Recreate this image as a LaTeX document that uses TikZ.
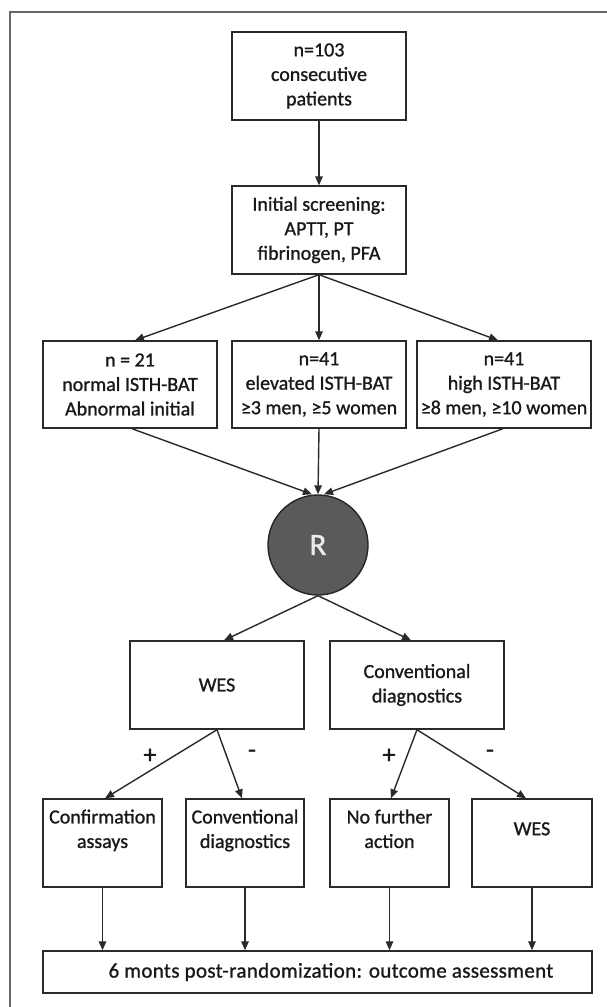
\documentclass[tikz,border=0pt]{standalone}
\usepackage{fontspec}
\setmainfont{Carlito}[FakeBold=1.1]
\usetikzlibrary{arrows.meta}
\definecolor{linec}{HTML}{2A2A2A}
\definecolor{framec}{HTML}{666666}
\definecolor{circfill}{HTML}{5A5A5A}
\begin{document}
\begin{tikzpicture}[x=1pt,y=-1pt,
  box/.style={draw=linec,line width=1.4pt,rectangle,align=center,inner sep=0pt,
    font=\fontsize{20}{24.5}\selectfont,text=black!90},
  arr/.style={draw=linec,line width=1.4pt,-{Triangle[length=9pt,width=7.5pt]}},
  sign/.style={font=\fontsize{26}{26}\selectfont,text=black!90}]
\useasboundingbox (0,0) rectangle (607,1007);
% outer frame
\draw[framec,line width=1.4pt] (10,1007) -- (10,12) -- (607,12);
% nodes
\node[box,minimum width=174pt,minimum height=88pt] (top) at (319,76) {n=103\\consecutive\\patients};
\node[box,minimum width=174pt,minimum height=88pt] (scr) at (319,230) {Initial screening:\\APTT, PT\\fibrinogen, PFA};
\node[box,minimum width=174pt,minimum height=87pt] (g1) at (130,384.5) {n = 21\\normal ISTH-BAT\\Abnormal initial};
\node[box,minimum width=174pt,minimum height=87pt] (g2) at (319,384.5) {n=41\\elevated ISTH-BAT\\≥3 men, ≥5 women};
\node[box,minimum width=174pt,minimum height=87pt] (g3) at (504,384.5) {n=41\\high ISTH-BAT\\≥8 men, ≥10 women};
\node[circle,draw=black!85,line width=1.4pt,fill=circfill,minimum size=100pt,inner sep=0pt,
  text=white!92!black,font=\fontsize{31}{31}\selectfont] (R) at (318,545) {R};
\node[box,minimum width=174pt,minimum height=88pt] (wes) at (217,685) {WES};
\node[box,minimum width=174pt,minimum height=88pt] (conv) at (417,685) {Conventional\\diagnostics};
\node[box,minimum width=119pt,minimum height=88pt] (a) at (102.5,843) {Confirmation\\assays\\[4pt]};
\node[box,minimum width=118pt,minimum height=88pt] (b) at (245,843) {Conventional\\diagnostics\\[4pt]};
\node[box,minimum width=119pt,minimum height=88pt] (c) at (389.5,843) {No further\\action\\[4pt]};
\node[box,minimum width=120pt,minimum height=88pt] (d) at (532,843) {WES\\[4pt]};
\node[box,minimum width=549pt,minimum height=42pt,font=\fontsize{21}{24.5}\selectfont\addfontfeature{LetterSpace=1.6}] (out) at (317.5,972) {\hspace*{27pt}6 monts post-randomization: outcome assessment};
% connectors
\draw[arr] (top.south) -- (scr.north);
\draw[arr] (scr.south) -- ([xshift=5pt]g1.north);
\draw[arr] (scr.south) -- (g2.north);
\draw[arr] (scr.south) -- ([xshift=-6pt]g3.north);
\draw[arr] ([xshift=2pt]g1.south) -- ([xshift=-6pt]R.north);
\draw[arr] (g2.south) -- (R.north);
\draw[arr] ([xshift=-1pt]g3.south) -- ([xshift=6pt]R.north);
\draw[arr] (R.south) -- ([xshift=7pt]wes.north);
\draw[arr] (R.south) -- ([xshift=-6pt]conv.north);
\draw[arr] (wes.south) -- ([xshift=2.5pt]a.north);
\draw[arr] (wes.south) -- ([xshift=-3pt]b.north);
\draw[arr] (conv.south) -- ([xshift=1.5pt]c.north);
\draw[arr] (conv.south) -- ([xshift=-6pt]d.north);
\draw[arr] (a.south) -- (a.south |- out.north);
\draw[arr] (b.south) -- (b.south |- out.north);
\draw[arr] (c.south) -- (c.south |- out.north);
\draw[arr] (d.south) -- (d.south |- out.north);
% signs
\node[sign] (p1) at (150,756) {+};
\node[sign] (m1) at (252,754) {-};
\node[sign] (p2) at (389,756) {+};
\node[sign] (m2) at (490,754) {-};
\end{tikzpicture}
\end{document}
